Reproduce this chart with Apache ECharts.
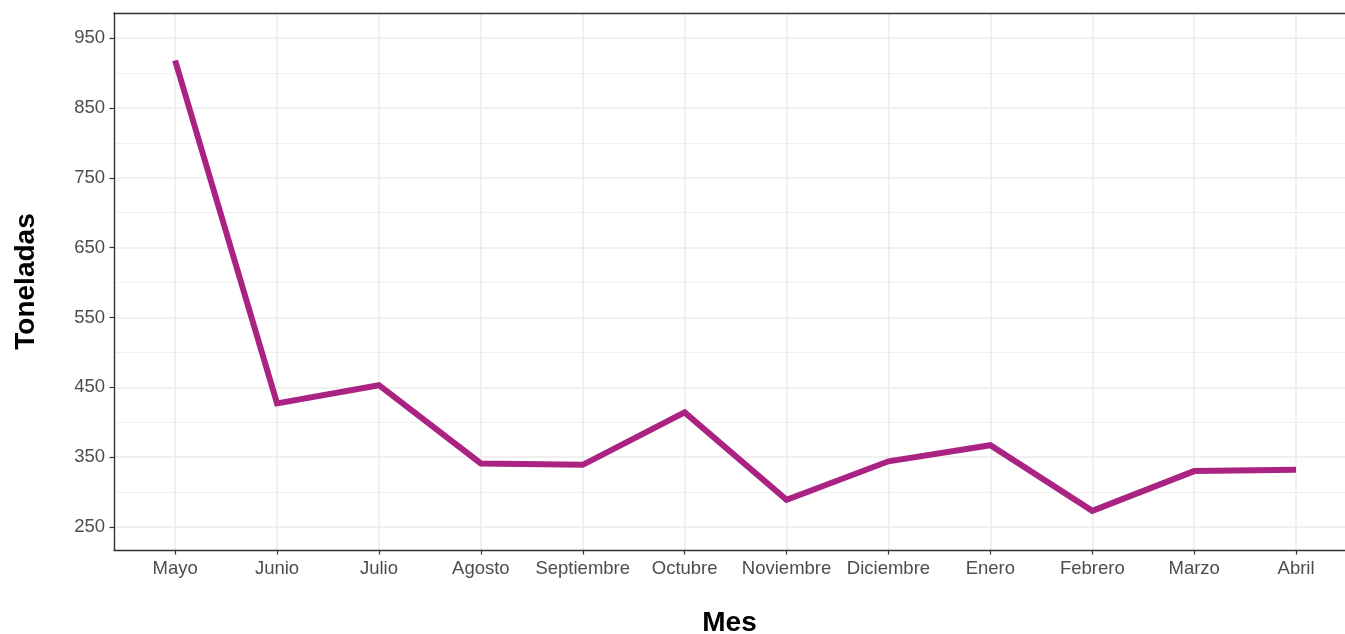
<!DOCTYPE html>
<html>
<head>
<meta charset="utf-8">
<script src="https://cdn.jsdelivr.net/npm/echarts@6/dist/echarts.min.js"></script>
<style>html,body{margin:0;padding:0;background:#fff;overflow:hidden;}#c{width:1345px;height:634px;}</style>
</head>
<body>
<div id="c"></div>
<script>
const categories = ['Mayo','Junio','Julio','Agosto','Septiembre','Octubre','Noviembre','Diciembre','Enero','Febrero','Marzo','Abril'];
const toneladas = [918, 427, 453, 341, 339, 414, 289, 344, 367, 273, 330, 332];
const yMajorTicks = [250, 350, 450, 550, 650, 750, 850, 950];
const yMinorTicks = [300, 400, 500, 600, 700, 800, 900];

const FONT = "'Liberation Sans', Arial, Helvetica, sans-serif";
const idx = categories.map((c, i) => i);
const chart = echarts.init(document.getElementById('c'));
chart.setOption({
  animation: false,
  backgroundColor: '#fff',
  grid: { left: 114, right: 0, top: 13, bottom: 84, containLabel: false, outerBoundsMode: 'none' },
  xAxis: [{
    type: 'value', min: -0.6, max: 11.48, position: 'bottom',
    name: 'Mes', nameLocation: 'middle', nameGap: 59,
    nameTextStyle: { fontFamily: FONT, fontSize: 28, fontWeight: 'bold', color: '#000' },
    axisLine: { show: true, onZero: false, lineStyle: { color: '#333', width: 1.4 } },
    axisTick: { show: true, length: 4.5, customValues: idx, lineStyle: { color: '#333', width: 1.2 } },
    axisLabel: { show: true, customValues: idx, margin: 9, fontFamily: FONT, fontSize: 18.5, color: '#4d4d4d',
      formatter: v => categories[Math.round(v)] },
    splitLine: { show: true, lineStyle: { color: '#ebebeb', width: 1.5 } }
  }, {
    type: 'value', min: -0.6, max: 11.48, position: 'top',
    axisLine: { show: true, onZero: false, lineStyle: { color: '#333', width: 1.4 } },
    axisTick: { show: false }, axisLabel: { show: false }, splitLine: { show: false }
  }],
  yAxis: [{
    type: 'value', min: 217, max: 986, position: 'left',
    name: 'Toneladas', nameLocation: 'middle', nameGap: 74, nameRotate: 90,
    nameTextStyle: { fontFamily: FONT, fontSize: 28, fontWeight: 'bold', color: '#000' },
    axisLine: { show: true, onZero: false, lineStyle: { color: '#333', width: 1.4 } },
    axisTick: { show: true, length: 4.5, customValues: yMajorTicks, lineStyle: { color: '#333', width: 1.2 } },
    axisLabel: { show: true, customValues: yMajorTicks, margin: 9, fontFamily: FONT, fontSize: 18.5, color: '#4d4d4d' },
    splitLine: { show: true, lineStyle: { color: '#ebebeb', width: 1.5 } }
  }, {
    type: 'value', min: 217, max: 986, position: 'left',
    axisLine: { show: false },
    axisTick: { show: false, customValues: yMinorTicks },
    axisLabel: { show: false, customValues: yMinorTicks },
    splitLine: { show: true, lineStyle: { color: '#f0f0f0', width: 1 } }
  }],
  series: [{
    type: 'line', xAxisIndex: 0, yAxisIndex: 0,
    data: toneladas.map((v, i) => [i, v]),
    showSymbol: false, symbol: 'none',
    lineStyle: { color: '#AA2382', width: 6, cap: 'butt', join: 'miter' },
    z: 5
  }]
});
</script>
</body>
</html>
